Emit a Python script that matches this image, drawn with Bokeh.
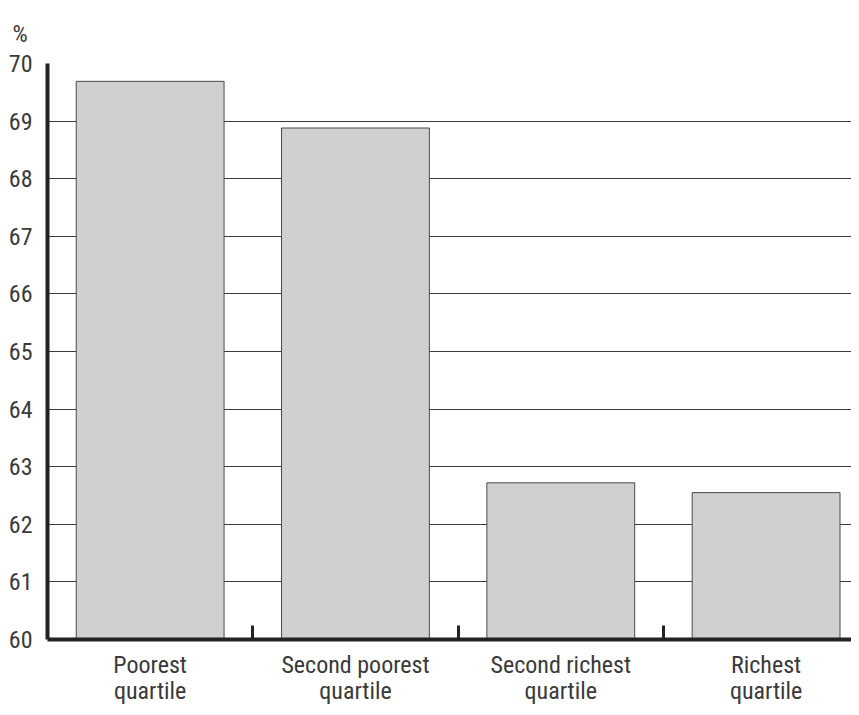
import numpy as np
from bokeh.plotting import figure
from bokeh.models import Range1d, FixedTicker, ColumnDataSource
from bokeh.embed import file_html
from bokeh.resources import INLINE

categories = ["Poorest\nquartile", "Second poorest\nquartile", "Second richest\nquartile", "Richest\nquartile"]
values = [69.69, 68.88, 62.72, 62.55]
y_ticks = [60, 61, 62, 63, 64, 65, 66, 67, 68, 69, 70]
y_unit = "%"

FONT = "Roboto Condensed"
TXT = "#3a3a3a"
FS = "24px"
FRAME_H = 576

idx = np.arange(len(categories))
centers = idx + 0.5
bounds = list(idx[1:])

src = ColumnDataSource(dict(x=centers, top=values))

p = figure(frame_width=804, frame_height=FRAME_H, output_backend="svg", toolbar_location=None,
           x_range=Range1d(0, 3.916), y_range=Range1d(60, 70),
           min_border_left=47, min_border_top=63, min_border_right=0, min_border_bottom=10)
p.outline_line_color = None
p.background_fill_color = "white"

p.vbar(x="x", top="top", bottom=60, width=0.72, source=src,
       fill_color="#d0d0d0", line_color="#4a4a4a", line_width=1)

p.xgrid.visible = False
p.ygrid.grid_line_color = "#3c3c3c"
p.ygrid.grid_line_width = 1
p.ygrid.ticker = FixedTicker(ticks=y_ticks)

ya = p.yaxis[0]
ya.ticker = FixedTicker(ticks=y_ticks)
ya.axis_line_width = 4
ya.axis_line_color = "#222222"
ya.major_tick_line_color = None
ya.minor_tick_line_color = None
ya.major_label_standoff = 9
ya.major_label_text_font = FONT
ya.major_label_text_font_size = FS
ya.major_label_text_color = TXT

xa = p.xaxis[0]
xa.ticker = FixedTicker(ticks=list(centers), minor_ticks=bounds)
xa.major_label_overrides = {float(c): lab for c, lab in zip(centers, categories)}
xa.axis_line_width = 4
xa.axis_line_color = "#222222"
xa.major_tick_line_color = None
xa.minor_tick_line_color = "#222222"
xa.minor_tick_line_width = 3
xa.minor_tick_in = 14
xa.minor_tick_out = 0
xa.major_label_standoff = 5
xa.major_label_text_font = FONT
xa.major_label_text_font_size = FS
xa.major_label_text_color = TXT
xa.major_label_text_line_height = 0.95

p.title.text = y_unit
p.title.align = "left"
p.title.offset = -35
p.title.standoff = 32
p.title.vertical_align = "bottom"
p.title.text_font = FONT
p.title.text_font_size = FS
p.title.text_font_style = "normal"
p.title.text_color = TXT

open("out.html", "w").write(file_html(p, INLINE))
